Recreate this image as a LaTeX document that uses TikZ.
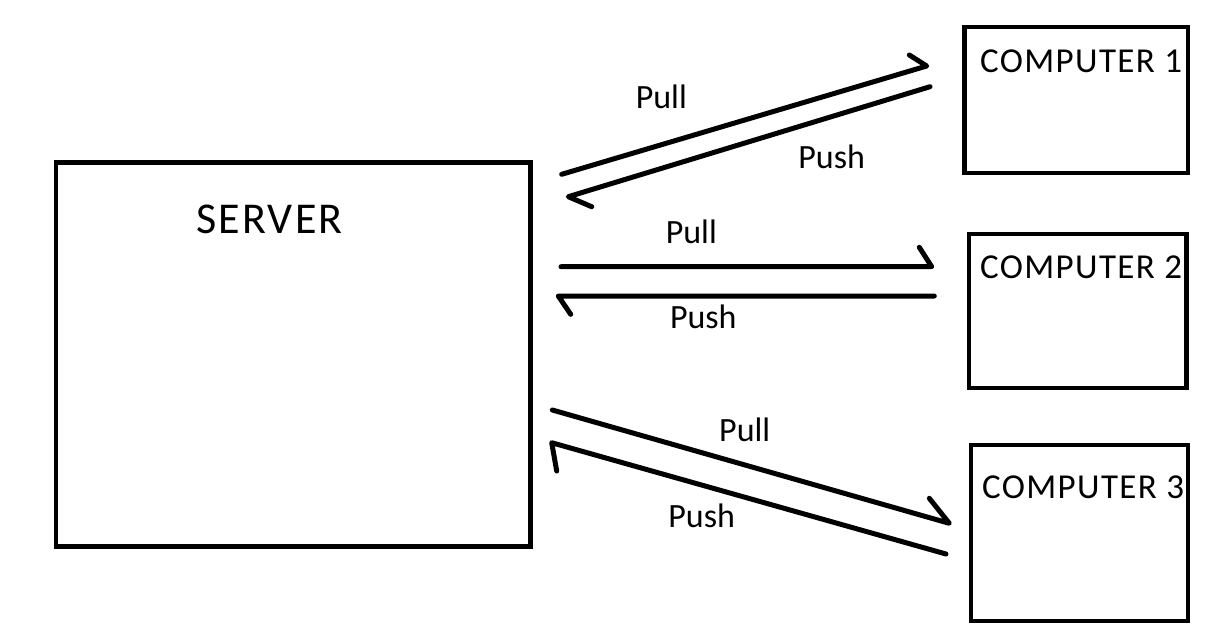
\documentclass[tikz,border=0pt]{standalone}
\usepackage{fontspec}
\setmainfont{Carlito}
\newfontfamily\boxfont{Carlito}[LetterSpace=4]
\newfontfamily\serverfont{Carlito}[LetterSpace=5]
\begin{document}
\begin{tikzpicture}[x=1pt,y=-1pt,
  box/.style={draw=black,line width=4.6pt},
  conn/.style={draw=black,line width=5pt,line cap=round,line join=round},
  boxlabel/.style={anchor=base,inner sep=0pt,font=\boxfont\fontsize{35}{40}\selectfont},
  serverlabel/.style={anchor=base,inner sep=0pt,font=\serverfont\fontsize{44}{50}\selectfont},
  arrowlabel/.style={anchor=base,inner sep=0pt,font=\fontsize{34}{40}\selectfont}]
\fill[white] (0,0) rectangle (1207,641);
\useasboundingbox (0,0) rectangle (1207,641);

% boxes
\draw[box] (55.8,162.5) rectangle (530.5,546.5);
\draw[box] (964.5,27) rectangle (1188,173);
\draw[box] (969,234) rectangle (1186.3,388);
\draw[box] (971,445) rectangle (1188,621);

\node[serverlabel] (server) at (269.5,233.3) {SERVER};
\node[boxlabel] (c1) at (1081,72.7) {COMPUTER 1};
\node[boxlabel] (c2) at (1081,278.3) {COMPUTER 2};
\node[boxlabel] (c3) at (1083,498.3) {COMPUTER 3};

% connector end points
\coordinate (pull1s) at (561.7,174.3);
\coordinate (pull1e) at (926.7,66);
\coordinate (pull1b) at (909.3,55);
\coordinate (push1s) at (930,86.7);
\coordinate (push1e) at (568.3,196.7);
\coordinate (push1b) at (591.7,206.7);
\coordinate (pull2s) at (561,266.7);
\coordinate (pull2e) at (931.7,266.7);
\coordinate (pull2b) at (919.3,247.3);
\coordinate (push2s) at (934.3,296);
\coordinate (push2e) at (558.3,296);
\coordinate (push2b) at (570.7,314.3);
\coordinate (pull3s) at (552.3,410);
\coordinate (pull3e) at (949.3,523.3);
\coordinate (pull3b) at (929.3,498.3);
\coordinate (push3s) at (946,554);
\coordinate (push3e) at (551.7,442.7);
\coordinate (push3b) at (556.7,471);

\draw[conn] (pull1s) -- (pull1e) -- (pull1b);
\draw[conn] (push1s) -- (push1e) -- (push1b);
\draw[conn] (pull2s) -- (pull2e) -- (pull2b);
\draw[conn] (push2s) -- (push2e) -- (push2b);
\draw[conn] (pull3s) -- (pull3e) -- (pull3b);
\draw[conn] (push3s) -- (push3e) -- (push3b);

\node[arrowlabel] (l1) at (661.3,108.3) {Pull};
\node[arrowlabel] (l2) at (831.7,168.3) {Push};
\node[arrowlabel] (l3) at (691.3,243.3) {Pull};
\node[arrowlabel] (l4) at (703.3,328.3) {Push};
\node[arrowlabel] (l5) at (744.7,441.7) {Pull};
\node[arrowlabel] (l6) at (701.7,527.3) {Push};
\end{tikzpicture}
\end{document}
